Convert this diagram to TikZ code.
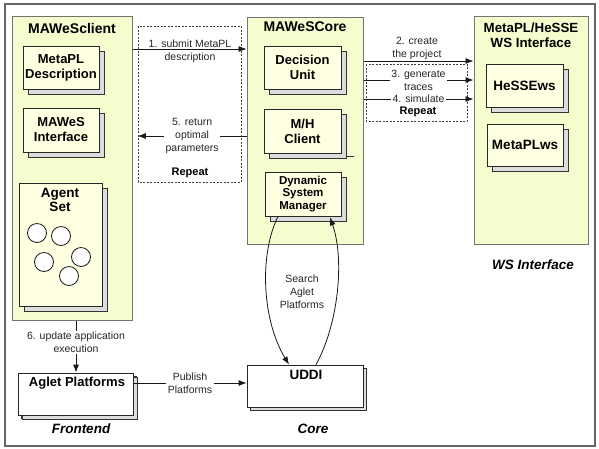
\documentclass[tikz,border=0pt]{standalone}
\usepackage{fontspec}
\setmainfont{Liberation Sans}
\usetikzlibrary{shadows,arrows.meta,calc}
\definecolor{panelfill}{RGB}{245,253,206}
\definecolor{boxfill}{RGB}{255,255,226}
\definecolor{shadowfill}{RGB}{220,220,220}
\definecolor{panelline}{RGB}{115,115,115}
\begin{document}
\begin{tikzpicture}[x=1pt,y=-1pt,
  panel/.style={draw=panelline, line width=1pt, fill=panelfill, inner sep=0pt},
  box/.style={draw=black!85, line width=0.8pt, fill=boxfill, inner sep=0pt, align=center,
    font=\bfseries\fontsize{13}{15}\selectfont,
    copy shadow={shadow xshift=5pt, shadow yshift=-5pt, fill=shadowfill, draw=black!80}},
  flatbox/.style={draw=black!85, line width=0.8pt, fill=white, inner sep=0pt,
    copy shadow={shadow xshift=3pt, shadow yshift=-3pt, fill=shadowfill, draw=black!80}},
  repeatbox/.style={draw=black!75, line width=0.7pt, dash pattern=on 2pt off 1.5pt},
  arr/.style={-{Latex[length=8pt,width=6pt]}, line width=0.8pt, draw=black!90},
  lbl/.style={font=\fontsize{10.5}{12.8}\selectfont, align=center, text=black!85, inner sep=0pt},
  lblw/.style={lbl, fill=white, inner sep=1.5pt},
  ttl/.style={font=\bfseries\fontsize{14}{15}\selectfont, align=center, inner sep=0pt},
  captxt/.style={font=\bfseries\itshape\fontsize{13.5}{15}\selectfont, inner sep=0pt},
  agent/.style={circle, draw=black!90, line width=0.8pt, fill=white, minimum size=19pt, inner sep=0pt}
]
\useasboundingbox (0,0) rectangle (599,448);
\draw[draw=black!60, line width=1.2pt] (5,4) rectangle (595,446);

% panels
\node[panel, minimum width=120pt, minimum height=304pt] (client) at (72,168) {};
\node[panel, minimum width=116pt, minimum height=227pt] (core) at (305,130.5) {};
\node[panel, minimum width=114pt, minimum height=228pt] (ws) at (531,130) {};

% titles
\node[ttl] (clientT) at (72,28) {MAWeSclient};
\node[ttl] (coreT) at (305,27) {MAWeSCore};
\node[ttl, font=\bfseries\fontsize{13.3}{15}\selectfont] (wsT) at (531,35.5) {MetaPL/HeSSE\\WS Interface};

% repeat boxes
\draw[repeatbox] (138,26) rectangle (241,182);
\node[inner sep=0pt, minimum width=103pt, minimum height=156pt] (rep1) at (189.5,104) {};
\draw[repeatbox] (366,64) rectangle (467,121);
\node[inner sep=0pt, minimum width=101pt, minimum height=57pt] (rep2) at (416.5,92.5) {};

% client boxes
\node[box, minimum width=76pt, minimum height=43pt] (desc) at (61,67.5) {MetaPL\\Description};
\node[box, minimum width=76pt, minimum height=44pt] (iface) at (61,130) {MAWeS\\Interface};
\node[box, minimum width=83pt, minimum height=123pt] (agents) at (60.5,244.5) {};
\node[font=\bfseries\fontsize{13.5}{14}\selectfont, align=center, inner sep=0pt] (agentsT) at (60,200) {Agent\\Set};
\node[agent] (c1) at (37,233) {};
\node[agent] (c2) at (61,236) {};
\node[agent] (c3) at (44,262) {};
\node[agent] (c4) at (81,257) {};
\node[agent] (c5) at (69,276) {};

% core boxes
\node[box, minimum width=77pt, minimum height=43pt] (dec) at (302.5,67.5) {Decision\\Unit};
\node[box, minimum width=77pt, minimum height=44pt] (mh) at (302.5,131) {M/H\\Client};
\draw[line width=0.8pt, black!80] (347,156) -- (354,156);
\node[box, minimum width=76pt, minimum height=44pt, font=\bfseries\fontsize{11.5}{12.8}\selectfont] (dsm) at (303,194) {Dynamic\\System\\Manager};

% ws boxes
\node[box, minimum width=77pt, minimum height=43pt, font=\bfseries\fontsize{13.5}{15}\selectfont] (hesse) at (524.5,85.5) {HeSSEws};
\node[box, minimum width=76pt, minimum height=42pt, font=\bfseries\fontsize{13.5}{15}\selectfont] (metaplws) at (525,145) {MetaPLws};

% bottom boxes
\node[flatbox, minimum width=115pt, minimum height=42pt, copy shadow={shadow xshift=4pt, shadow yshift=-4pt, fill=shadowfill, draw=black!80}] (aglet) at (75.5,394) {};
\node[font=\bfseries\fontsize{13}{15}\selectfont, inner sep=0pt] (agletT) at (77,383) {Aglet Platforms};
\node[flatbox, minimum width=116pt, minimum height=42pt] (uddi) at (305,386) {};
\node[font=\bfseries\fontsize{13.5}{15}\selectfont, inner sep=0pt] (uddiT) at (306,375) {UDDI};

% captions
\node[captxt] (frontT) at (81,429) {Frontend};
\node[captxt] (coreC) at (313,429) {Core};
\node[captxt] (wsC) at (533,265) {WS Interface};

% helper coordinates
\coordinate (y49) at (0,49);
\coordinate (y61) at (0,61);
\coordinate (y80) at (0,80);
\coordinate (y99) at (0,99);
\coordinate (y136) at (0,136);
\coordinate (y383) at (0,383);
\coordinate (x76) at (76,0);

% connectors
\draw[arr] (client.east |- y49) -- (core.west |- y49);
\node[lbl] (l1) at (190,51) {1. submit MetaPL\\description};
\draw[arr] (core.west |- y136) -- node[lblw] (l5) {5. return\\optimal\\parameters} (rep1.west |- y136);
\node[font=\bfseries\fontsize{11}{13}\selectfont, inner sep=0pt] (rep1T) at (190,173) {Repeat};

\draw[arr] (core.east |- y61) -- (ws.west |- y61);
\node[lbl] (l2) at (417,48.5) {2. create\\the project};
\draw[arr] (core.east |- y80) -- node[lblw, inner ysep=0.5pt] (l3) {3. generate\\traces} (ws.west |- y80);
\draw[arr] (core.east |- y99) -- node[lblw, inner ysep=0.5pt] (l4) {4. simulate} (ws.west |- y99);
\node[font=\bfseries\fontsize{11}{13}\selectfont, inner sep=0pt] (rep2T) at (418,112) {Repeat};

\draw[arr] (client.south -| x76) -- node[lblw, pos=0.42] (l6) {6. update application\\execution} (aglet.north -| x76);
\draw[arr] (aglet.east |- y383) -- node[lblw] (lp) {Publish\\Platforms} (uddi.west |- y383);

\draw[arr] ([xshift=-25pt]dsm.south) .. controls (259,255) and (262,320) .. ([xshift=-16pt]uddi.north);
\draw[arr] ([xshift=11pt]uddi.north) .. controls (338,325) and (345,260) .. ([xshift=27pt,yshift=-1pt]dsm.south);
\node[lbl] (ls) at (302,292) {Search\\Aglet\\Platforms};
\end{tikzpicture}
\end{document}
